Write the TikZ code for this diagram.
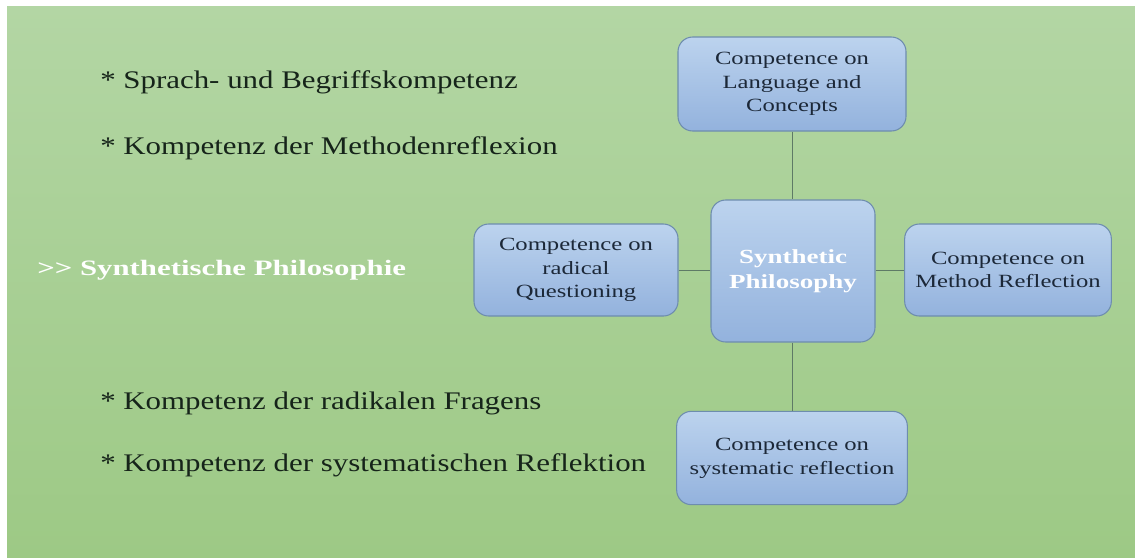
\documentclass[tikz,border=0pt]{standalone}
\usepackage{fontspec}
\setmainfont{Liberation Serif}
\newfontfamily\itemfont[FakeStretch=1.22]{Liberation Serif}
\newfontfamily\synfont[FakeStretch=1.40]{Liberation Serif}
\newfontfamily\boxfont[FakeStretch=1.32]{Liberation Serif}
\newfontfamily\ctrfont[FakeStretch=1.35]{Liberation Serif}
\definecolor{bgtop}{HTML}{B3D6A4}
\definecolor{bgbot}{HTML}{9DC985}
\definecolor{boxtop}{HTML}{BCD3EE}
\definecolor{boxbot}{HTML}{93B2DD}
\definecolor{boxline}{HTML}{6E8DAE}
\definecolor{linecol}{HTML}{5E7A66}
\definecolor{darktext}{HTML}{16241A}
\definecolor{boxtext}{HTML}{1C2838}
\begin{document}
\begin{tikzpicture}[x=0.75pt,y=-0.75pt,
  box/.style={draw=boxline, line width=0.8pt, rounded corners=11pt, top color=boxtop, bottom color=boxbot,
    align=center, font=\boxfont\fontsize{14}{17.8}\selectfont, text=boxtext, inner sep=0pt},
  link/.style={draw=linecol, line width=0.6pt},
  item/.style={anchor=west, font=\itemfont\fontsize{19}{22}\selectfont, text=darktext, inner sep=0pt}]
\useasboundingbox (0,0) rectangle (1135,557);
\fill[white] (0,0) rectangle (1135,557);
\shade[top color=bgtop, bottom color=bgbot] (7,6) rectangle (1135,557);

\node[box, minimum width=171pt, minimum height=70.5pt] (top) at (792,84) {Competence on\\Language and\\Concepts};
\node[box, minimum width=123pt, minimum height=106.5pt, text=white, font=\ctrfont\bfseries\fontsize{15}{18.8}\selectfont] (ctr) at (793,271) {Synthetic\\Philosophy};
\node[box, minimum width=153pt, minimum height=69pt] (lft) at (576,270) {Competence on\\radical\\Questioning};
\node[box, minimum width=155pt, minimum height=69pt] (rgt) at (1008,270) {Competence on\\Method Reflection};
\node[box, minimum width=173pt, minimum height=70pt] (bot) at (792,458) {Competence on\\systematic reflection};

\draw[link] (top.south) -- (top.south |- ctr.north);
\draw[link] (top.south |- ctr.south) -- (bot.north);
\draw[link] (lft.east) -- (ctr.west |- lft.east);
\draw[link] (ctr.east |- rgt.west) -- (rgt.west);

\node[item] (i1) at (100,82) {* Sprach- und Begriffskompetenz};
\node[item] (i2) at (100,148) {* Kompetenz der Methodenreflexion};
\node[item, text=white, font=\synfont\bfseries\fontsize{16.5}{20}\selectfont] (syn) at (37,270) {{>}{>} Synthetische Philosophie};
\node[item] (i3) at (100,403) {* Kompetenz der radikalen Fragens};
\node[item] (i4) at (100,465) {* Kompetenz der systematischen Reflektion};
\end{tikzpicture}
\end{document}
